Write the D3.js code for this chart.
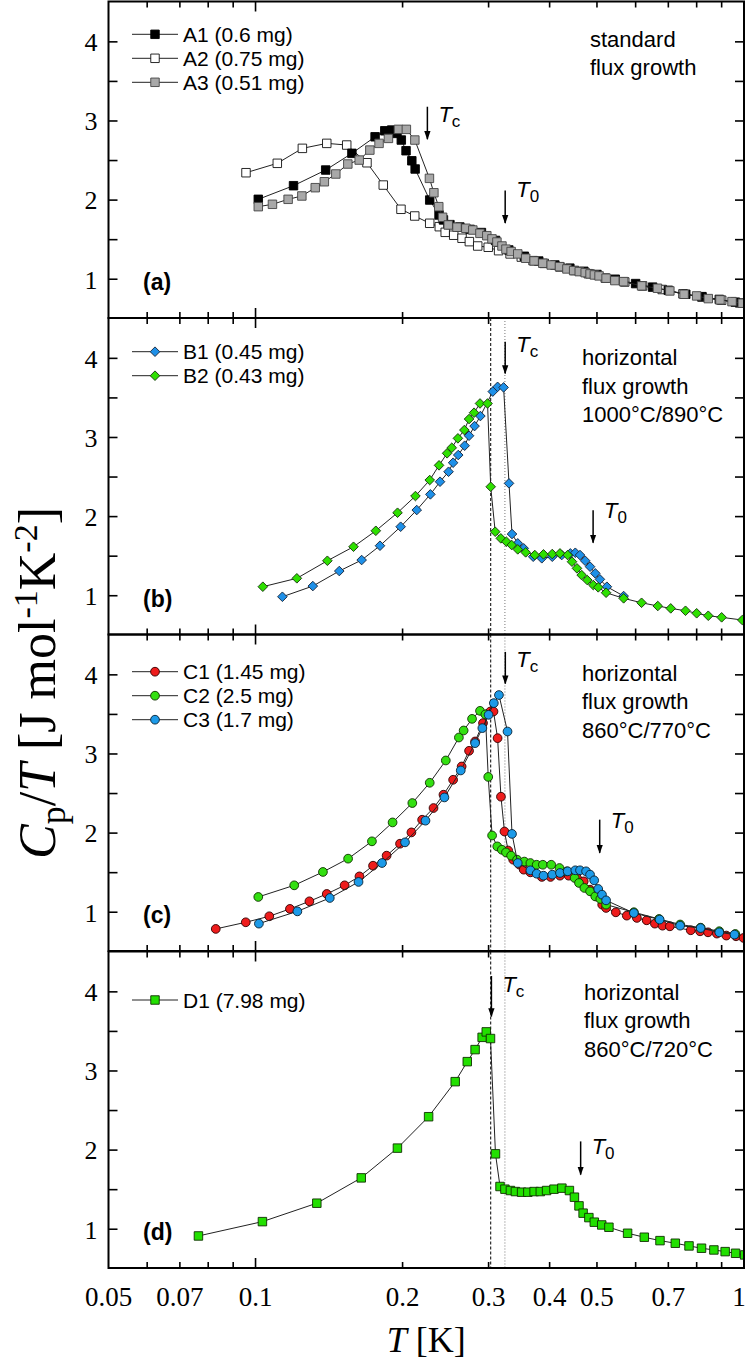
<!DOCTYPE html>
<html><head><meta charset="utf-8">
<script src="https://cdn.jsdelivr.net/npm/d3@7"></script>
<style>body{margin:0;background:#fff}</style>
</head><body>
<svg id="chart" width="748" height="1364" xmlns="http://www.w3.org/2000/svg"></svg>
<script>
// ---------------- data: [T (K), Cp/T (J mol^-1 K^-2)] ----------------
const A1 = [[0.1013,2.010],[0.1196,2.182],[0.1392,2.38],[0.1575,2.591],[0.1757,2.80],[0.1839,2.876],[0.190,2.885],[0.1948,2.843],[0.1988,2.759],[0.2033,2.624],[0.2089,2.497],[0.2122,2.393],[0.2273,2.001],[0.2375,1.812],[0.2425,1.75],[0.25,1.69],[0.262,1.66],[0.275,1.63],[0.29,1.59],[0.31,1.49],[0.33,1.37],[0.355,1.29],[0.38,1.23],[0.41,1.18],[0.44,1.14],[0.47,1.10],[0.50,1.06],[0.545,1.00],[0.60,0.945],[0.65,0.90],[0.70,0.86],[0.76,0.81],[0.82,0.78],[0.89,0.745],[0.96,0.71]];
const A2 = [[0.0956,2.346],[0.1108,2.465],[0.1247,2.654],[0.1399,2.717],[0.1537,2.696],[0.1691,2.472],[0.1826,2.19],[0.1985,1.884],[0.2118,1.799],[0.2273,1.707],[0.2378,1.664],[0.2445,1.593],[0.2545,1.556],[0.2647,1.518],[0.274,1.475],[0.285,1.42],[0.2995,1.404],[0.3145,1.361],[0.332,1.32],[0.35,1.28],[0.37,1.235],[0.39,1.20],[0.42,1.155],[0.45,1.11],[0.48,1.07],[0.52,1.015],[0.57,0.965],[0.62,0.915],[0.68,0.87],[0.75,0.815],[0.82,0.775],[0.90,0.735],[0.98,0.70]];
const A3 = [[0.1013,1.917],[0.1083,1.947],[0.1166,2.010],[0.1244,2.052],[0.1325,2.157],[0.1383,2.232],[0.146,2.33],[0.1545,2.456],[0.163,2.506],[0.1714,2.632],[0.179,2.717],[0.1871,2.78],[0.1961,2.894],[0.2036,2.894],[0.2119,2.759],[0.227,2.275],[0.2318,2.093],[0.2372,1.917],[0.2415,1.783],[0.248,1.686],[0.2585,1.657],[0.2695,1.644],[0.2785,1.622],[0.288,1.58],[0.2975,1.55],[0.3048,1.51],[0.312,1.47],[0.3195,1.42],[0.3256,1.38],[0.3336,1.35],[0.3442,1.32],[0.3573,1.265],[0.3718,1.231],[0.3874,1.202],[0.403,1.18],[0.419,1.159],[0.434,1.13],[0.448,1.109],[0.46,1.096],[0.473,1.083],[0.484,1.067],[0.494,1.054],[0.505,1.042],[0.522,1.013],[0.544,0.983],[0.567,0.97],[0.617,0.916],[0.665,0.886],[0.705,0.852],[0.754,0.81],[0.80,0.789],[0.845,0.755],[0.893,0.739],[0.945,0.717],[0.992,0.697]];
const B1 = [[0.1135,0.987],[0.1310,1.122],[0.1484,1.312],[0.1649,1.451],[0.1798,1.632],[0.1982,1.872],[0.2138,2.083],[0.228,2.281],[0.2386,2.441],[0.2484,2.567],[0.2538,2.681],[0.26,2.778],[0.268,2.896],[0.2736,3.022],[0.2808,3.144],[0.2886,3.271],[0.306,3.58],[0.313,3.64],[0.322,3.633],[0.3303,2.42],[0.335,1.78],[0.3442,1.662],[0.354,1.599],[0.3702,1.493],[0.3855,1.473],[0.405,1.493],[0.4235,1.514],[0.441,1.535],[0.4515,1.543],[0.4616,1.514],[0.473,1.442],[0.484,1.367],[0.496,1.283],[0.507,1.207],[0.524,1.114],[0.567,0.996]];
const B2 = [[0.1035,1.114],[0.1215,1.22],[0.1403,1.442],[0.1587,1.619],[0.1763,1.821],[0.1953,2.049],[0.2125,2.26],[0.2273,2.462],[0.2375,2.648],[0.2467,2.80],[0.2522,2.87],[0.2596,2.989],[0.2676,3.094],[0.2736,3.233],[0.2801,3.313],[0.2881,3.43],[0.2985,3.43],[0.303,2.377],[0.3095,1.809],[0.3178,1.725],[0.3262,1.683],[0.3345,1.641],[0.3442,1.586],[0.3573,1.548],[0.373,1.514],[0.3886,1.523],[0.405,1.527],[0.42,1.535],[0.4355,1.514],[0.4445,1.43],[0.455,1.346],[0.4652,1.261],[0.4776,1.198],[0.4914,1.135],[0.503,1.106],[0.522,1.038],[0.567,0.967],[0.617,0.911],[0.666,0.87],[0.708,0.84],[0.759,0.81],[0.80,0.778],[0.845,0.747],[0.90,0.727],[0.992,0.693]];
const C1 = [[0.0829,0.789],[0.0955,0.873],[0.1067,0.949],[0.1176,1.042],[0.1289,1.138],[0.1399,1.231],[0.1522,1.34],[0.1632,1.453],[0.174,1.588],[0.1855,1.715],[0.1976,1.866],[0.2085,2.009],[0.2193,2.169],[0.2314,2.317],[0.2425,2.485],[0.2538,2.674],[0.2642,2.842],[0.2736,3.04],[0.2815,3.158],[0.2922,3.39],[0.298,3.504],[0.3025,3.537],[0.307,3.537],[0.313,3.2],[0.318,2.46],[0.3233,2.02],[0.329,1.78],[0.3369,1.664],[0.347,1.601],[0.354,1.538],[0.3653,1.504],[0.3855,1.446],[0.4017,1.446],[0.42,1.462],[0.4375,1.462],[0.455,1.433],[0.4697,1.39],[0.484,1.285],[0.4985,1.2],[0.5125,1.096],[0.522,1.054],[0.5465,0.999],[0.5755,0.957],[0.6035,0.928],[0.632,0.898],[0.657,0.856],[0.681,0.83],[0.705,0.822],[0.778,0.772],[0.813,0.759],[0.844,0.746],[0.88,0.73],[0.92,0.705],[0.963,0.696],[0.998,0.675]];
const C2 = [[0.1013,1.193],[0.12,1.34],[0.1374,1.509],[0.1547,1.677],[0.1731,1.896],[0.1908,2.135],[0.2094,2.38],[0.2273,2.636],[0.2452,2.918],[0.2608,3.208],[0.2667,3.297],[0.2775,3.444],[0.2881,3.545],[0.2955,3.50],[0.2995,2.71],[0.305,1.97],[0.3125,1.832],[0.3193,1.79],[0.3256,1.756],[0.3336,1.715],[0.3431,1.664],[0.355,1.64],[0.3653,1.622],[0.3763,1.60],[0.3874,1.60],[0.403,1.60],[0.419,1.559],[0.434,1.517],[0.45,1.433],[0.4594,1.37],[0.4712,1.307],[0.484,1.264],[0.496,1.2],[0.508,1.168],[0.522,1.096],[0.595,1.0],[0.67,0.915],[0.74,0.845],[0.815,0.805],[0.89,0.76],[0.96,0.725]];
const C3 = [[0.1016,0.856],[0.1218,1.011],[0.1419,1.18],[0.1625,1.383],[0.1815,1.622],[0.2023,1.883],[0.2228,2.157],[0.2436,2.451],[0.2631,2.792],[0.2815,3.137],[0.2913,3.327],[0.300,3.495],[0.3075,3.643],[0.315,3.745],[0.328,3.284],[0.335,1.99],[0.3442,1.622],[0.3653,1.53],[0.3763,1.487],[0.3886,1.462],[0.405,1.475],[0.42,1.496],[0.4355,1.517],[0.4515,1.53],[0.4616,1.53],[0.475,1.517],[0.484,1.475],[0.4935,1.403],[0.503,1.294],[0.512,1.222],[0.522,1.15],[0.595,0.99],[0.672,0.907],[0.74,0.83],[0.815,0.80],[0.89,0.746],[0.956,0.717]];
const D1 = [[0.0764,0.915],[0.1033,1.096],[0.1335,1.329],[0.1646,1.649],[0.1952,2.025],[0.2261,2.422],[0.2563,2.865],[0.2713,3.118],[0.2815,3.27],[0.291,3.425],[0.2967,3.494],[0.3027,3.41],[0.3099,1.953],[0.3166,1.54],[0.324,1.506],[0.3325,1.489],[0.3404,1.476],[0.3505,1.468],[0.361,1.468],[0.3718,1.476],[0.3828,1.476],[0.3943,1.489],[0.4083,1.506],[0.4238,1.519],[0.4391,1.489],[0.4496,1.405],[0.4594,1.295],[0.4684,1.203],[0.4813,1.147],[0.4938,1.089],[0.5114,1.054],[0.529,1.025],[0.5777,0.949],[0.625,0.899],[0.673,0.856],[0.7234,0.823],[0.7717,0.789],[0.8185,0.76],[0.8677,0.738],[0.915,0.717],[0.961,0.696],[1.003,0.675]];

const xTickLabelValues = [0.05,0.07,0.1,0.2,0.3,0.4,0.5,0.7,1];
const xMajorTickValues = [0.1,1];
const xMinorTickValues = [0.06,0.07,0.08,0.09,0.2,0.3,0.4,0.5,0.6,0.7,0.8,0.9];
const yTickLabelValues = [1,2,3,4];
const yMinorTickValues = [1.5,2.5,3.5];
const T_dashed = 0.303;
const T_dotted = 0.324;

const legendA = ["A1 (0.6 mg)","A2 (0.75 mg)","A3 (0.51 mg)"];
const legendB = ["B1 (0.45 mg)","B2 (0.43 mg)"];
const legendC = ["C1 (1.45 mg)","C2 (2.5 mg)","C3 (1.7 mg)"];
const legendD = ["D1 (7.98 mg)"];
const notesA = ["standard","flux growth"];
const notesB = ["horizontal","flux growth","1000°C/890°C"];
const notesC = ["horizontal","flux growth","860°C/770°C"];
const notesD = ["horizontal","flux growth","860°C/720°C"];
const panelLabels = ["(a)","(b)","(c)","(d)"];
// arrow markers: [T, Cp/T top, Cp/T bottom]
const arrowsTc = [[0.2248,3.18,2.77],[0.3244,4.21,3.81],[0.3246,4.29,3.89],[0.304,4.20,3.69]];
const arrowsT0 = [[0.3244,2.12,1.71],[0.491,2.08,1.67],[0.5065,2.17,1.75],[0.463,2.11,1.69]];

// ---------------- styles / layout ----------------
const styles = {
  A1:{shape:"square", fill:"#000000", stroke:"#000000"},
  A2:{shape:"square", fill:"#ffffff", stroke:"#111111"},
  A3:{shape:"square", fill:"#a8a8a8", stroke:"#444444"},
  B1:{shape:"diamond", fill:"#1e90e8", stroke:"#1a2a40"},
  B2:{shape:"diamond", fill:"#2ee000", stroke:"#1a3a10"},
  C1:{shape:"circle", fill:"#ee1c1c", stroke:"#300000"},
  C2:{shape:"circle", fill:"#33e011", stroke:"#103000"},
  C3:{shape:"circle", fill:"#1c9ae8", stroke:"#0a2030"},
  D1:{shape:"square", fill:"#22e000", stroke:"#103000"}
};
const panels = [
  {series:[["A2",A2],["A1",A1],["A3",A3]], legendOrder:["A1","A2","A3"], legend:legendA, notes:notesA, legendTop:32.8, notesX:590, notesTop:45, labelDy:[15,6]},
  {series:[["B1",B1],["B2",B2]], legendOrder:["B1","B2"], legend:legendB, notes:notesB, legendTop:33.7, notesX:582, notesTop:47, labelDy:[10,8]},
  {series:[["C1",C1],["C2",C2],["C3",C3]], legendOrder:["C1","C2","C3"], legend:legendC, notes:notesC, legendTop:37.2, notesX:582, notesTop:46, labelDy:[15,8]},
  {series:[["D1",D1]], legendOrder:["D1"], legend:legendD, notes:notesD, legendTop:48.5, notesX:584, notesTop:48, labelDy:[16,13]}
];

const L = 108.5, R = 744;
const panelTops = [1.5, 318, 634.5, 951.5];
const PH = 316.5;
const yDomain = [0.51, 4.51];

const svg = d3.select("#chart");
const x = d3.scaleLog().domain([0.05,1]).range([L,R]);
const sans = "'Liberation Sans', Arial, sans-serif";
const serif = "'Liberation Serif', 'Times New Roman', serif";

function markerPath(shape){
  if(shape==="square") return d3.symbol(d3.symbolSquare, 72)();
  if(shape==="diamond") return d3.symbol(d3.symbolSquare, 46)();
  return d3.symbol(d3.symbolCircle, 60)();
}
function drawMarker(g, shape, st){
  const p = g.append("path").attr("d", markerPath(shape))
    .attr("fill", st.fill).attr("stroke", st.stroke).attr("stroke-width", 0.9);
  if(shape==="diamond") p.attr("transform","rotate(45)");
  return p;
}

const defs = svg.append("defs");
defs.append("marker").attr("id","arrowhead").attr("viewBox","0 0 10 10")
  .attr("refX",9).attr("refY",5).attr("markerWidth",9).attr("markerHeight",9)
  .attr("markerUnits","userSpaceOnUse").attr("orient","auto")
  .append("path").attr("d","M0,1.5 L10,5 L0,8.5 Z").attr("fill","#000");

panels.forEach((p, i) => {
  const top = panelTops[i];
  const y = d3.scaleLinear().domain(yDomain).range([top+PH, top]);
  const g = svg.append("g");
  const clipId = "clip"+i;
  defs.append("clipPath").attr("id",clipId).append("rect")
    .attr("x",L).attr("y",top).attr("width",R-L).attr("height",PH);

  if(i>0){
    g.append("line").attr("x1",x(T_dashed)).attr("x2",x(T_dashed)).attr("y1",top).attr("y2",top+PH)
      .attr("stroke","#000").attr("stroke-width",1).attr("stroke-dasharray","3,2");
    g.append("line").attr("x1",x(T_dotted)).attr("x2",x(T_dotted)).attr("y1",top).attr("y2",top+PH)
      .attr("stroke","#777").attr("stroke-width",1).attr("stroke-dasharray","1,2");
  }

  const dg = g.append("g").attr("clip-path",`url(#${clipId})`);
  const line = d3.line().x(d=>x(d[0])).y(d=>y(d[1]));
  p.series.forEach(([name, data]) => {
    const st = styles[name];
    dg.append("path").datum(data).attr("d", line).attr("fill","none")
      .attr("stroke","#222").attr("stroke-width",1);
    const mg = dg.append("g");
    data.forEach(d => {
      const m = mg.append("g").attr("transform",`translate(${x(d[0])},${y(d[1])})`);
      drawMarker(m, st.shape, st);
    });
  });

  g.append("rect").attr("x",L).attr("y",top).attr("width",R-L).attr("height",PH)
    .attr("fill","none").attr("stroke","#000").attr("stroke-width",2);

  const xtick = (v,len) => {
    g.append("line").attr("x1",x(v)).attr("x2",x(v)).attr("y1",top+PH).attr("y2",top+PH-len).attr("stroke","#000").attr("stroke-width",1.6);
    g.append("line").attr("x1",x(v)).attr("x2",x(v)).attr("y1",top).attr("y2",top+len).attr("stroke","#000").attr("stroke-width",1.6);
  };
  xMajorTickValues.forEach(v=>xtick(v,10));
  xMinorTickValues.forEach(v=>xtick(v,6));
  const ytick = (v,len) => {
    g.append("line").attr("x1",L).attr("x2",L+len).attr("y1",y(v)).attr("y2",y(v)).attr("stroke","#000").attr("stroke-width",1.6);
    g.append("line").attr("x1",R).attr("x2",R-len).attr("y1",y(v)).attr("y2",y(v)).attr("stroke","#000").attr("stroke-width",1.6);
  };
  yTickLabelValues.forEach(v=>ytick(v,9));
  yMinorTickValues.forEach(v=>ytick(v,9));
  yTickLabelValues.forEach(v => {
    g.append("text").attr("x",L-11).attr("y",y(v)).attr("dy","0.36em")
      .attr("text-anchor","end").attr("font-family",serif).attr("font-size",26).text(v);
  });

  p.legendOrder.forEach((name, k) => {
    const ly = top + p.legendTop + k*24;
    g.append("line").attr("x1",132).attr("x2",178).attr("y1",ly).attr("y2",ly).attr("stroke","#222").attr("stroke-width",1);
    const m = g.append("g").attr("transform",`translate(155,${ly})`);
    drawMarker(m, styles[name].shape, styles[name]);
    g.append("text").attr("x",183).attr("y",ly+7.5).attr("font-family",sans).attr("font-size",21).text(p.legend[k]);
  });

  p.notes.forEach((t,k) => {
    g.append("text").attr("x",p.notesX).attr("y",top+p.notesTop+k*28.5).attr("font-family",sans).attr("font-size",22).text(t);
  });

  g.append("text").attr("x",143).attr("y",top+PH-28).attr("font-family",sans).attr("font-weight","bold").attr("font-size",23).text(panelLabels[i]);

  [[arrowsTc[i],"c",p.labelDy[0]],[arrowsT0[i],"0",p.labelDy[1]]].forEach(([a,sub,ldy]) => {
    const ax = x(a[0]), y1 = y(a[1]), y2 = y(a[2]);
    g.append("line").attr("x1",ax).attr("x2",ax).attr("y1",y1).attr("y2",y2)
      .attr("stroke","#000").attr("stroke-width",1.5).attr("marker-end","url(#arrowhead)");
    const t = g.append("text").attr("x",ax+11).attr("y",y1+ldy).attr("font-family",sans).attr("font-size",22);
    t.append("tspan").attr("font-style","italic").text("T");
    t.append("tspan").attr("font-size",17).attr("dy",5).text(sub);
  });
});

const bottom = panelTops[3]+PH;
xTickLabelValues.forEach(v => {
  svg.append("text").attr("x",Math.min(x(v),739)).attr("y",bottom+38).attr("text-anchor","middle")
    .attr("font-family",serif).attr("font-size",27).text(v);
});
const xt = svg.append("text").attr("x",(L+R)/2).attr("y",1352).attr("text-anchor","middle")
  .attr("font-family",serif).attr("font-size",36);
xt.append("tspan").attr("font-style","italic").text("T");
xt.append("tspan").text(" [K]");

const yt = svg.append("text").attr("transform","translate(55,683) rotate(-90)").attr("text-anchor","middle")
  .attr("font-family",serif).attr("font-size",52);
yt.append("tspan").attr("font-style","italic").text("C");
yt.append("tspan").attr("font-size",36).attr("dy",10).text("p");
yt.append("tspan").attr("dy",-10).text("/");
yt.append("tspan").attr("font-style","italic").text("T");
yt.append("tspan").text(" [J mol");
yt.append("tspan").attr("font-size",34).attr("dy",-18).text("-1");
yt.append("tspan").attr("dy",18).text("K");
yt.append("tspan").attr("font-size",34).attr("dy",-18).text("-2");
yt.append("tspan").attr("dy",18).text("]");
</script>
</body></html>
